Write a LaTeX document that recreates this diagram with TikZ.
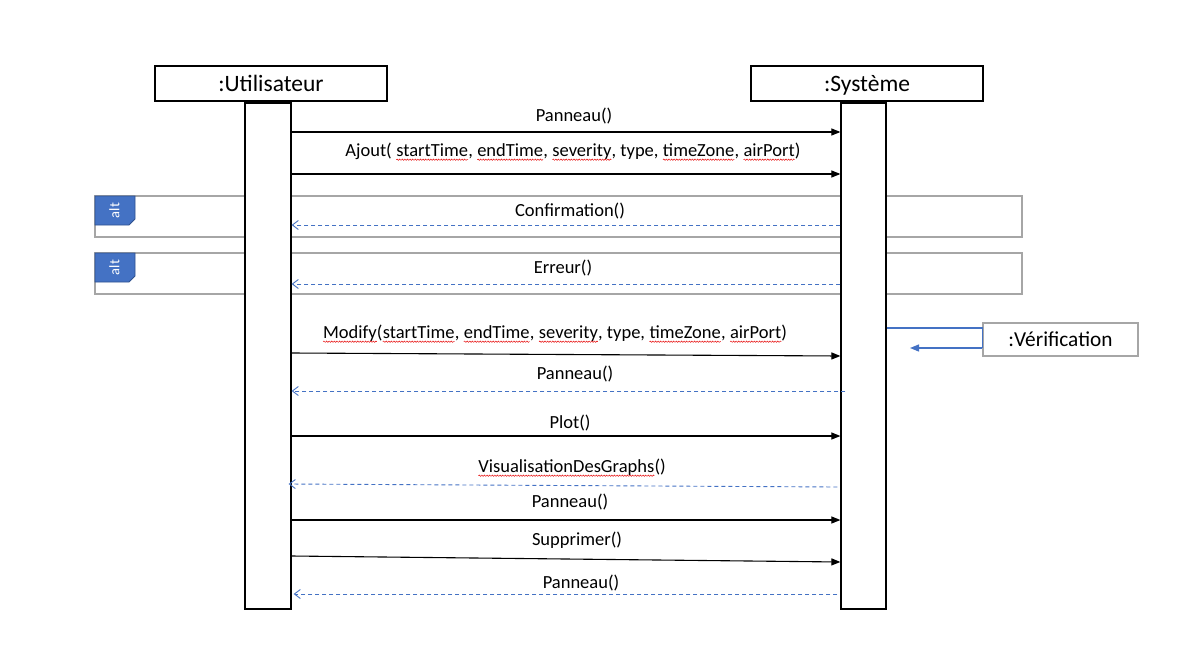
\documentclass[tikz,border=0pt]{standalone}
\usepackage{fontspec}
\setmainfont{Carlito}
\usetikzlibrary{arrows.meta,decorations.pathmorphing}
\definecolor{msblue}{HTML}{4472C4}
\definecolor{msdark}{HTML}{2F528F}
\definecolor{framegray}{HTML}{A6A6A6}
\newcommand\spellwave[1]{\tikz[baseline=(sw.base)]{\node[inner sep=0pt, outer sep=0pt] (sw) {#1};\draw[red!90!black, line width=0.45pt, decorate, decoration={snake, amplitude=0.7pt, segment length=2.6pt}] ([yshift=-2.8pt]sw.base west) -- ([yshift=-2.8pt]sw.base east);}}
\tikzset{
  actor/.style={draw=black, line width=1.2pt, fill=white, minimum width=232pt, minimum height=35pt, inner sep=0pt, text height=18pt, text depth=3pt, font=\fontsize{23.5}{27}\selectfont},
  actbar/.style={draw=black, line width=1.2pt, fill=white, inner sep=0pt, minimum height=506pt},
  altframe/.style={draw=framegray, line width=1.3pt},
  alttag/.style={draw=msdark, line width=0.8pt, fill=msblue},
  alttext/.style={rotate=90, text=white, font=\fontsize{14.5}{16}\selectfont, inner sep=0pt},
  msglabel/.style={font=\fontsize{18.5}{21}\selectfont, inner sep=0pt},
  callmsg/.style={draw=black, line width=1.1pt, -{Triangle[length=9pt,width=7pt]}},
  retmsg/.style={draw=msblue, line width=0.9pt, dash pattern=on 4pt off 3pt, -{Straight Barb[length=6pt,width=9pt]}},
  selfmsg/.style={draw=msblue, line width=1.3pt},
}
\begin{document}
\begin{tikzpicture}[x=1pt,y=-1pt]
\useasboundingbox (0,0) rectangle (1178,651);
% alt frames
\draw[altframe] (95,196) rectangle (1022,237);
\draw[altframe] (95,253) rectangle (1022,294);
\path[alttag] (95,196) -- (135,196) -- (135,219) -- (129,225) -- (95,225) -- cycle;
\path[alttag] (95,253) -- (135,253) -- (135,276) -- (129,282) -- (95,282) -- cycle;
\node[alttext] (alta) at (114.5,210.5) {alt};
\node[alttext] (altb) at (114.5,267.5) {alt};
% actors
\node[actor] (u) at (271,83.5) {:Utilisateur};
\node[actor] (s) at (867,83.5) {:Système};
\node[actbar, minimum width=46pt] (ua) at (268,356) {};
\node[actbar, minimum width=45pt] (sa) at (863.5,356) {};
% verification
\node[draw=framegray, line width=1.3pt, fill=white, minimum width=155pt, minimum height=33pt, inner sep=0pt, text height=16pt, text depth=3pt, font=\fontsize{21.3}{24}\selectfont] (v) at (1060.5,339.5) {:Vérification};
\coordinate (vend) at (910,348);
\draw[selfmsg] (sa.east |- 0,328) -- (v.west |- 0,328) -- (v.west |- 0,348);
\draw[selfmsg, -{Triangle[length=9pt,width=7pt]}] (v.west |- 0,348) -- (vend);
% labels
\node[msglabel] (l1) at (574,116) {Panneau()};
\node[msglabel] (l2) at (573,152) {Ajout( \spellwave{startTime}, \spellwave{endTime}, \spellwave{severity}, type, \spellwave{timeZone}, \spellwave{airPort})};
\node[msglabel] (l3) at (570,211) {Confirmation()};
\node[msglabel] (l4) at (563,268) {Erreur()};
\node[msglabel] (l5) at (555,334) {\spellwave{Modify}(\spellwave{startTime}, \spellwave{endTime}, \spellwave{severity}, type, \spellwave{timeZone}, \spellwave{airPort})};
\node[msglabel] (l6) at (575,374) {Panneau()};
\node[msglabel] (l7) at (570,423) {Plot()};
\node[msglabel] (l8) at (572,468) {\spellwave{VisualisationDesGraphs}()};
\node[msglabel] (l9) at (570,502) {Panneau()};
\node[msglabel] (l10) at (577,540) {Supprimer()};
\node[msglabel] (l11) at (581,583) {Panneau()};
% messages
\draw[callmsg] (ua.east |- 0,132) -- (sa.west |- 0,132);
\draw[callmsg] (ua.east |- 0,174) -- (sa.west |- 0,174);
\draw[retmsg] (sa.west |- 0,225) -- (ua.east |- 0,225);
\draw[retmsg] (sa.west |- 0,284) -- (ua.east |- 0,284);
\draw[callmsg] (ua.east |- 0,353) -- (sa.west |- 0,356);
\draw[retmsg] ([xshift=5pt]sa.west |- 0,391) -- (ua.east |- 0,391);
\draw[callmsg] (ua.east |- 0,436) -- (sa.west |- 0,436);
\draw[retmsg] ([xshift=-3pt]sa.west |- 0,487) -- ([xshift=-3pt]ua.east |- 0,484);
\draw[callmsg] (ua.east |- 0,520) -- (sa.west |- 0,520);
\draw[callmsg] (ua.east |- 0,556) -- (sa.west |- 0,562);
\draw[retmsg] ([xshift=-3pt]sa.west |- 0,594) -- ([xshift=2pt]ua.east |- 0,594);
\end{tikzpicture}
\end{document}
